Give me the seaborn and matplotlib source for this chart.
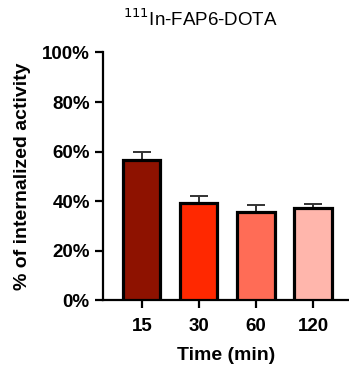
import matplotlib
matplotlib.use("Agg")
import matplotlib.pyplot as plt
import seaborn as sns
import pandas as pd

times = ["15", "30", "60", "120"]
means = [56.6, 39.4, 35.6, 37.2]
errs = [3.4, 2.9, 2.9, 1.8]
colors = ["#8E1200", "#FF2800", "#FF6C56", "#FFB6AC"]
yticks = [0, 20, 40, 60, 80, 100]
ytick_labels = ["0%", "20%", "40%", "60%", "80%", "100%"]

sns.set_theme(style="ticks")
plt.rcParams["font.family"] = ["Liberation Sans", "DejaVu Sans"]
plt.rcParams["text.color"] = "black"
plt.rcParams["axes.labelcolor"] = "black"
plt.rcParams["xtick.color"] = "black"
plt.rcParams["ytick.color"] = "black"

df = pd.DataFrame({"time": times, "value": means})

fig = plt.figure(figsize=(3.49, 3.75), dpi=100)
ax = fig.add_axes([0.295, 0.199, 0.705, 0.661])

sns.barplot(data=df, x="time", y="value", hue="time", palette=colors,
            order=times, width=0.65, edgecolor="black", linewidth=2.3,
            saturation=1, legend=False, ax=ax, zorder=3)

xs = list(range(len(times)))
ax.errorbar(xs, means, yerr=[[0] * len(errs), errs], fmt="none",
            ecolor="#333333", elinewidth=1.4, capsize=6.5, capthick=1.4, zorder=2)

ax.set_ylim(0, 100)
ax.set_xlim(-0.68, 3.63)
ax.set_yticks(yticks)
ax.set_yticklabels(ytick_labels, fontsize=13.5, fontweight="bold")
ax.set_xticks(xs)
ax.set_xticklabels(times, fontsize=13.5, fontweight="bold")
for sp in ["top", "right"]:
    ax.spines[sp].set_visible(False)
for sp in ["left", "bottom"]:
    ax.spines[sp].set_linewidth(1.6)
    ax.spines[sp].set_color("black")
ax.tick_params(axis="both", length=5.5, width=1.6, color="black")
ax.tick_params(axis="y", pad=4)
ax.tick_params(axis="x", pad=7)

ax.set_xlabel("Time (min)", fontsize=14, fontweight="bold", labelpad=9)
ax.set_ylabel("% of internalized activity", fontsize=14, fontweight="bold", labelpad=8)

fig.text(0.573, 0.95, r"$^{111}$In-FAP6-DOTA", ha="center", va="center", fontsize=13.5)

fig.savefig("out.png", dpi=100)
